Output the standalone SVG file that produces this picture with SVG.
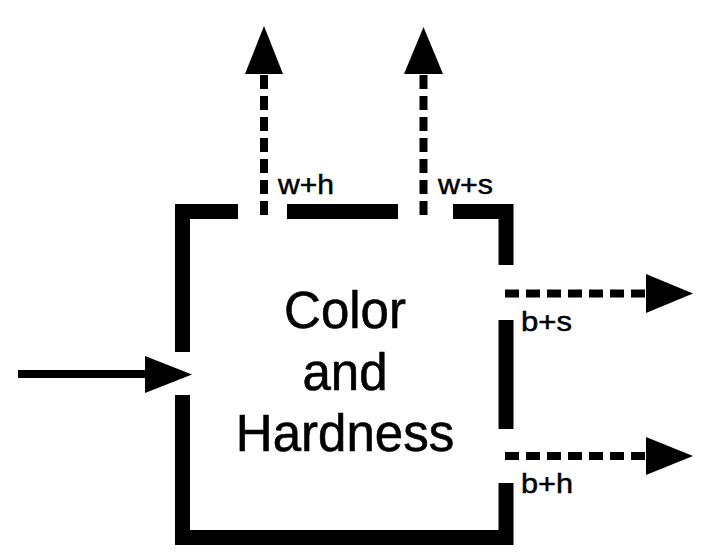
<svg xmlns="http://www.w3.org/2000/svg" width="706" height="560" viewBox="0 0 706 560">
<style>
.wall{fill:none;stroke:#000;stroke-width:15;stroke-linejoin:miter;stroke-linecap:butt}
.dash{fill:none;stroke:#000;stroke-width:8;stroke-dasharray:14 7}
.solid{fill:none;stroke:#000;stroke-width:8}
.head{fill:#000}
.title{font-family:"Liberation Sans",Arial,Helvetica,sans-serif;font-size:51px;fill:#000;stroke:#000;stroke-width:0.6;text-anchor:middle}
.lbl{font-family:"Liberation Sans",Arial,Helvetica,sans-serif;font-size:28px;fill:#000;stroke:#000;stroke-width:0.5}
</style>
<rect width="706" height="560" fill="#fff"/>
<g id="box">
<path class="wall" d="M182.5,352 V211.5 H238"/>
<path class="wall" d="M287,211.5 H398"/>
<path class="wall" d="M453,211.5 H506 V265"/>
<path class="wall" d="M506,320 V429"/>
<path class="wall" d="M182.5,395 V537.5 H506 V483"/>
<text class="title" x="345" y="328">Color</text>
<text class="title" x="345" y="390">and</text>
<text class="title" x="345" y="451">Hardness</text>
</g>
<g id="connectors">
<g id="input">
<line class="solid" x1="18" y1="374" x2="146" y2="374"/>
<polygon class="head" points="145,356 192,374.5 145,393"/>
</g>
<g id="out-wh">
<line class="dash" x1="264" y1="215" x2="264" y2="75"/>
<polygon class="head" points="245,74 264,26 283,74"/>
</g>
<g id="out-ws">
<line class="dash" x1="423.5" y1="215" x2="423.5" y2="75"/>
<polygon class="head" points="404,74 423.5,27 443,74"/>
</g>
<g id="out-bs">
<line class="dash" x1="505" y1="293.5" x2="646" y2="293.5"/>
<polygon class="head" points="646,274 693,293.5 646,313"/>
</g>
<g id="out-bh">
<line class="dash" x1="505" y1="456" x2="646" y2="456"/>
<polygon class="head" points="646,437 693,456 646,475"/>
</g>
</g>
<g id="labels">
<text class="lbl" x="278" y="194" textLength="56" lengthAdjust="spacingAndGlyphs">w+h</text>
<text class="lbl" x="438" y="194" textLength="55" lengthAdjust="spacingAndGlyphs">w+s</text>
<text class="lbl" x="521" y="331" textLength="51" lengthAdjust="spacingAndGlyphs">b+s</text>
<text class="lbl" x="521" y="493" textLength="52" lengthAdjust="spacingAndGlyphs">b+h</text>
</g>
</svg>
